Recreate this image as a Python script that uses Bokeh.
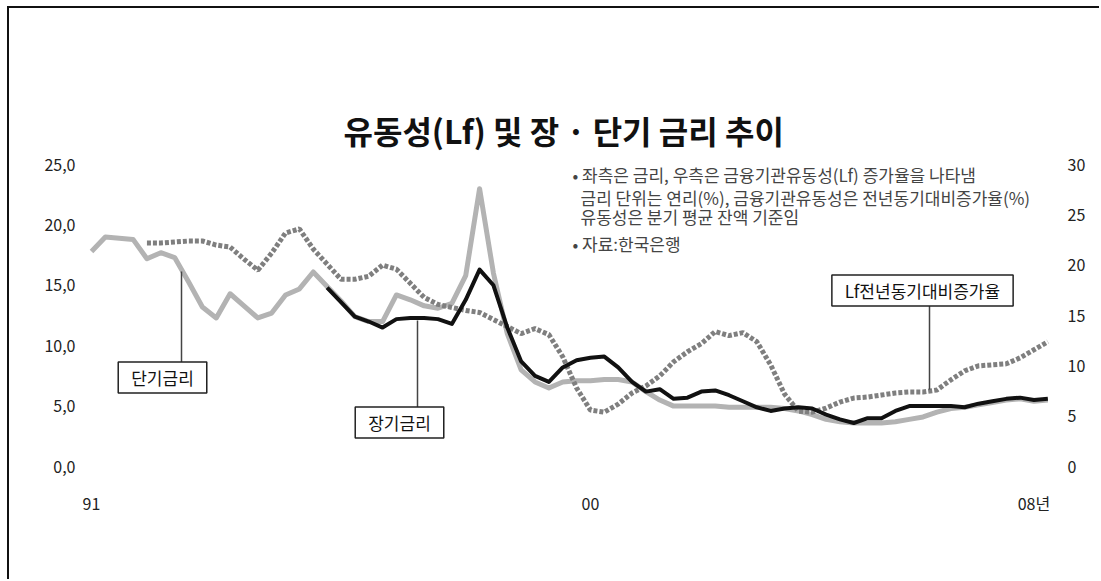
import math
from bokeh.plotting import figure
from bokeh.models import Range1d, LinearAxis, FixedTicker, Label, ColumnDataSource
from bokeh.embed import file_html
from bokeh.resources import INLINE

NaN = float("nan")

# ---------------- data (quarterly, 1991Q1 .. 2008Q2) ----------------
years = list(range(1991, 2009))
quarters = [1, 2, 3, 4]
periods = [y + (q - 1) / 4 for y in years for q in quarters][:70]

# 단기금리 (left axis, %)
short_rate = [17.8, 19.0, 18.9, 18.8, 17.2, 17.7, 17.3, 15.3, 13.2, 12.3,
              14.3, 13.3, 12.3, 12.7, 14.2, 14.7, 16.1, 14.9, 13.7, 12.4,
              12.0, 12.0, 14.2, 13.8, 13.3, 13.1, 13.5, 15.8, 23.0, 16.0,
              11.0, 8.0, 7.0, 6.5, 7.0, 7.1, 7.1, 7.2, 7.2, 7.0,
              6.2, 5.5, 5.0, 5.0, 5.0, 5.0, 4.9, 4.9, 4.9, 4.9,
              4.8, 4.6, 4.3, 3.9, 3.7, 3.6, 3.6, 3.6, 3.7, 3.9,
              4.1, 4.5, 4.8, 4.9, 5.1, 5.3, 5.5, 5.6, 5.4, 5.5]

# 장기금리 (left axis, %), starts 1995Q2
long_rate = [NaN] * 17 + [
    14.8, 13.6, 12.4, 12.0, 11.5, 12.2, 12.3, 12.3, 12.2, 11.8,
    13.8, 16.3, 15.0, 11.5, 8.7, 7.5, 7.0, 8.2, 8.8, 9.0,
    9.1, 8.2, 7.0, 6.2, 6.4, 5.6, 5.7, 6.2, 6.3, 5.9,
    5.4, 4.9, 4.6, 4.8, 4.9, 4.8, 4.3, 3.9, 3.6, 4.0,
    4.0, 4.6, 5.0, 5.0, 5.0, 5.0, 4.9, 5.2, 5.4, 5.6,
    5.7, 5.5, 5.6]

# Lf 전년동기대비증가율 (right axis, %), starts 1992Q1
lf_growth = [NaN] * 4 + [
    22.2, 22.2, 22.3, 22.4, 22.4, 22.0, 21.8, 20.6, 19.5, 21.2,
    23.2, 23.6, 21.6, 20.1, 18.6, 18.6, 18.9, 20.0, 19.6, 18.2,
    16.8, 16.1, 15.8, 15.5, 15.3, 14.6, 13.9, 13.2, 13.7, 13.1,
    10.9, 7.8, 5.6, 5.4, 6.2, 7.3, 8.0, 9.0, 10.4, 11.4,
    12.2, 13.4, 13.0, 13.3, 12.4, 10.1, 7.2, 5.5, 5.4, 5.8,
    6.4, 6.8, 6.9, 7.1, 7.3, 7.4, 7.4, 7.6, 8.6, 9.5,
    10.0, 10.1, 10.2, 10.8, 11.6, 12.4]

left_ticks = [0, 5, 10, 15, 20, 25]
left_tick_labels = ["0,0", "5,0", "10,0", "15,0", "20,0", "25,0"]
right_ticks = [0, 5, 10, 15, 20, 25, 30]
right_tick_labels = ["0", "5", "10", "15", "20", "25", "30"]
x_ticks = [1991, 2000, 2008]
x_tick_labels = ["91", "00", "08년"]

title_text = "유동성(Lf) 및 장 · 단기 금리 추이"
note_lines = ["• 좌측은 금리, 우측은 금융기관유동성(Lf) 증가율을 나타냄",
              "금리 단위는 연리(%), 금융기관유동성은 전년동기대비증가율(%)",
              "유동성은 분기 평균 잔액 기준임",
              "• 자료:한국은행"]
box_labels = ["단기금리", "장기금리", "Lf전년동기대비증가율"]

# ---------------- geometry (screenshot pixels) ----------------
# canvas origin after the 2px left/top rule drawn as a CSS border
CX0, CY0 = 9, 8
W, H = 1101 - CX0, 581 - CY0
F_LEFT, F_RIGHT, F_TOP, F_BOTTOM = 82, 1060, 155, 466
X_ORIGIN_PX, PX_PER_YEAR = 91.0, 55.44
Y_ZERO_PX, PX_PER_UNIT = 466.0, 12.08
RIGHT_RATIO = 1.2


def xd(px):
    return 1991 + (px - X_ORIGIN_PX) / PX_PER_YEAR


def yd(py):
    return (Y_ZERO_PX - py) / PX_PER_UNIT


FONT = "Noto Sans CJK KR"

frame_css = {
    "margin-left": "7px",
    "margin-top": "6px",
    "border-left": "2px solid #111111",
    "border-top": "2px solid #111111",
}

p = figure(width=W, height=H, output_backend="svg", toolbar_location=None,
           x_range=Range1d(xd(F_LEFT), xd(F_RIGHT)),
           y_range=Range1d(0, yd(F_TOP)),
           min_border_left=F_LEFT - CX0, min_border_right=CX0 + W - F_RIGHT,
           min_border_top=F_TOP - CY0, min_border_bottom=CY0 + H - F_BOTTOM,
           styles=frame_css)
p.extra_y_ranges = {"lf": Range1d(0, yd(F_TOP) * RIGHT_RATIO)}

p.outline_line_color = None
p.grid.visible = False
p.background_fill_color = "white"
p.border_fill_color = "white"

# title
p.title.text = title_text
p.title.align = "left"
p.title.offset = 343 - F_LEFT
p.title.text_font = FONT
p.title.text_font_size = "32px"
p.title.text_font_style = "bold"
p.title.text_color = "#111111"
p.title.standoff = 6


def style_axis(ax, ticks, labels, standoff):
    ax.ticker = FixedTicker(ticks=ticks)
    ax.major_label_overrides = {t: l for t, l in zip(ticks, labels)}
    ax.axis_line_color = None
    ax.major_tick_line_color = None
    ax.minor_tick_line_color = None
    ax.major_tick_out = 0
    ax.major_tick_in = 0
    ax.major_label_standoff = standoff
    ax.major_label_text_font = FONT
    ax.major_label_text_font_size = "16px"
    ax.major_label_text_color = "#222222"


style_axis(p.yaxis[0], left_ticks, left_tick_labels, 7)
style_axis(p.xaxis[0], x_ticks, x_tick_labels, 24)
right_axis = LinearAxis(y_range_name="lf")
style_axis(right_axis, right_ticks, right_tick_labels, 7)
p.add_layout(right_axis, "right")

src = ColumnDataSource(dict(t=periods, short=short_rate, long=long_rate, lf=lf_growth))

p.line("t", "short", source=src, line_color="#b3b3b3", line_width=5, line_join="round")
p.line("t", "lf", source=src, y_range_name="lf", line_color="#7f7f7f", line_width=5,
       line_dash="4 2")
p.line("t", "long", source=src, line_color="#111111", line_width=4, line_join="round")

# leader lines (screen px)
leader_x = [181, 417, 929]
leader_y0 = [271, 320, 305]
leader_y1 = [362, 408, 389]
p.segment(x0=[xd(v) for v in leader_x], y0=[yd(v) for v in leader_y0],
          x1=[xd(v) for v in leader_x], y1=[yd(v) for v in leader_y1],
          line_color="#444444", line_width=1.5)

# boxed labels
box_cx = [162, 399, 922]
box_cy = [377, 422, 290]
for txt, cx, cy in zip(box_labels, box_cx, box_cy):
    p.add_layout(Label(x=xd(cx), y=yd(cy), text=txt, text_align="center",
                       text_baseline="middle", text_font=FONT,
                       text_font_size="17px", text_color="#111111",
                       border_line_color="#222222", border_line_width=1.5,
                       background_fill_color="white", padding=(13, 3)))

# notes
note_x = [572, 580, 580, 572]
note_y = [174, 197, 216, 243]
for txt, nx, ny in zip(note_lines, note_x, note_y):
    p.add_layout(Label(x=xd(nx), y=yd(ny), text=txt, text_align="left",
                       text_baseline="middle", text_font=FONT,
                       text_font_size="17px", text_color="#444444"))

open("out.html", "w").write(file_html(p, INLINE))
